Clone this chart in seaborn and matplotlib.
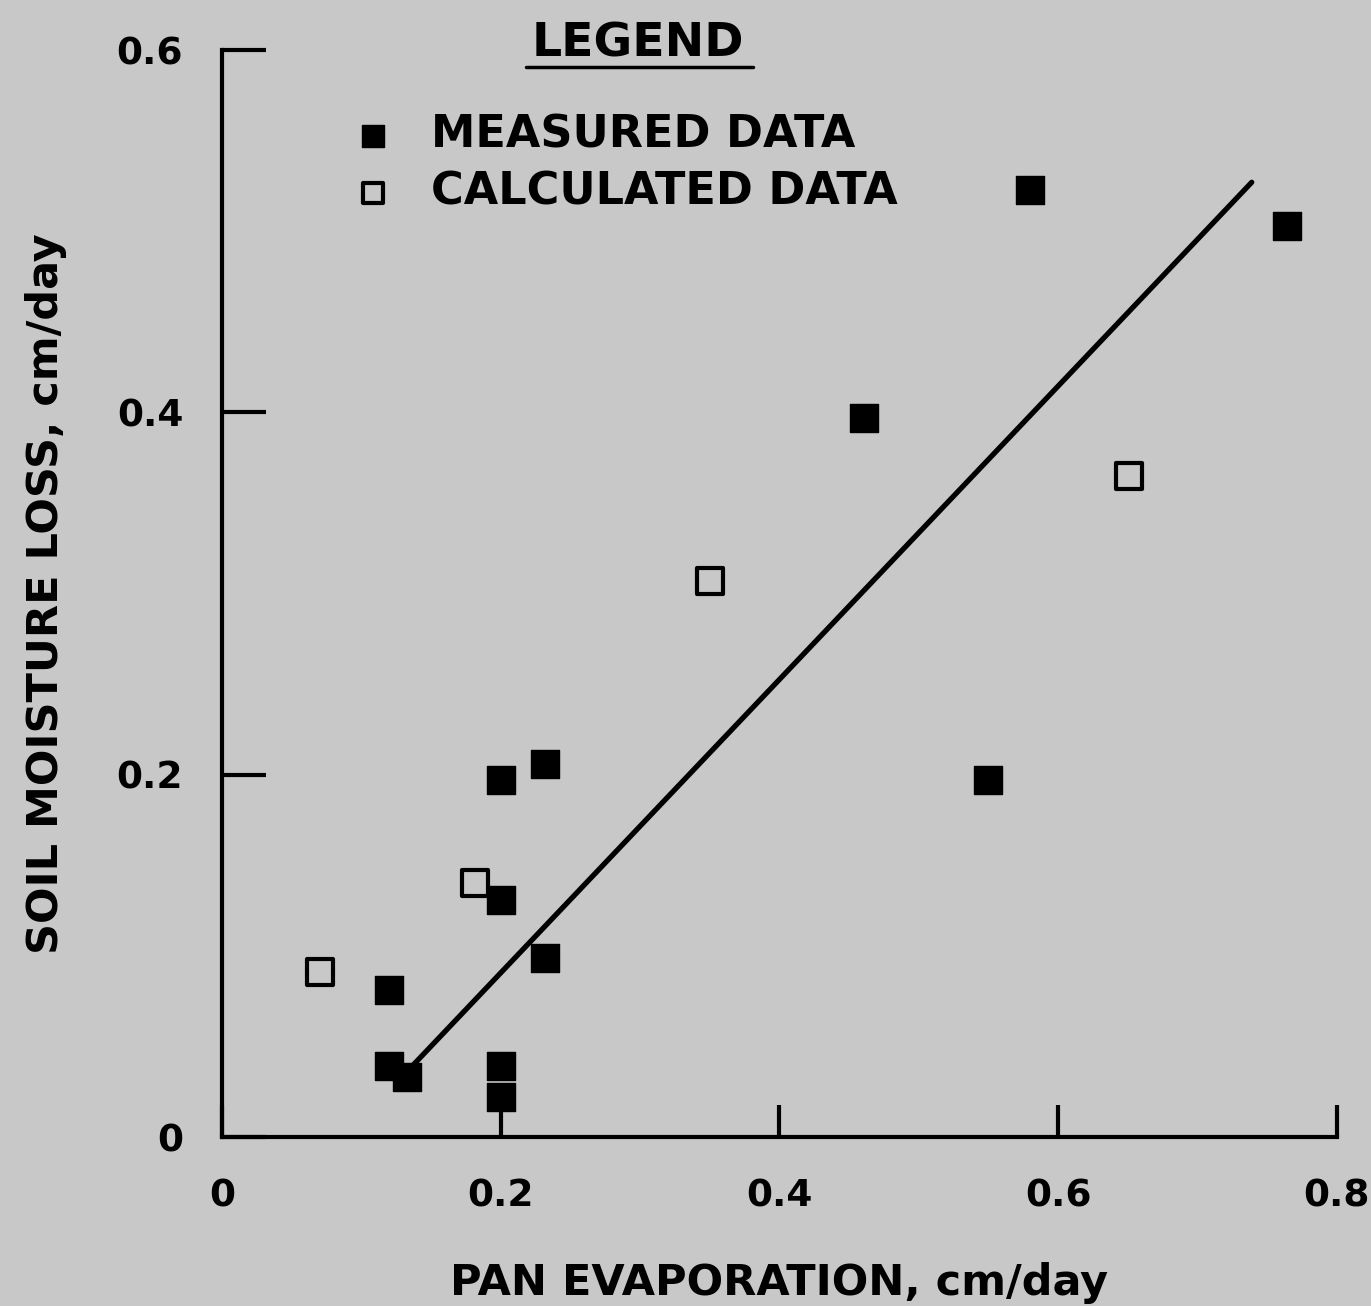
import matplotlib.pyplot as plt
import matplotlib.lines as mlines
import pandas as pd
import seaborn as sns

# measured points (filled squares)
meas_x = [0.12, 0.12, 0.133, 0.20, 0.232, 0.20, 0.232, 0.20, 0.20, 0.461, 0.55, 0.58, 0.764]
meas_y = [0.081, 0.039, 0.033, 0.197, 0.206, 0.131, 0.099, 0.039, 0.022, 0.397, 0.197, 0.523, 0.503]
# calculated points (open squares)
calc_x = [0.070, 0.1815, 0.350, 0.651]
calc_y = [0.091, 0.140, 0.307, 0.365]
# fitted line end points
fit_x = [0.135, 0.739]
fit_y = [0.038, 0.527]

bg = '#c8c8c8'
sns.set_theme(style='ticks')
plt.rcParams['font.family'] = ['DejaVu Sans']
plt.rcParams['font.weight'] = 'bold'
plt.rcParams['text.color'] = 'black'
plt.rcParams['axes.labelcolor'] = 'black'
plt.rcParams['xtick.color'] = 'black'
plt.rcParams['ytick.color'] = 'black'

fig = plt.figure(figsize=(13.71, 13.06), dpi=100, facecolor=bg)
ax = fig.add_axes([0.162, 0.1294, 0.813, 0.8323])
ax.set_facecolor(bg)

meas_df = pd.DataFrame({'x': meas_x, 'y': meas_y})
calc_df = pd.DataFrame({'x': calc_x, 'y': calc_y})
fit_df = pd.DataFrame({'x': fit_x, 'y': fit_y})

sns.lineplot(data=fit_df, x='x', y='y', ax=ax, color='black', linewidth=3.8)
sns.scatterplot(data=meas_df, x='x', y='y', ax=ax, marker='s', s=420, color='black',
                edgecolor='black', linewidth=1, label='MEASURED DATA', zorder=3)
sns.scatterplot(data=calc_df, x='x', y='y', ax=ax, marker='s', s=340, facecolor=bg,
                edgecolor='black', linewidth=3, label='CALCULATED DATA', zorder=3)

ax.set_xlim(0, 0.8)
ax.set_ylim(0, 0.6)
ax.set_xticks([0, 0.2, 0.4, 0.6, 0.8])
ax.set_xticklabels(['0', '0.2', '0.4', '0.6', '0.8'])
ax.set_yticks([0, 0.2, 0.4, 0.6])
ax.set_yticklabels(['0', '0.2', '0.4', '0.6'])
ax.tick_params(direction='in', width=3, labelsize=27)
ax.tick_params(axis='x', length=23, pad=30)
ax.tick_params(axis='y', length=32, pad=28)
for lab in ax.get_xticklabels() + ax.get_yticklabels():
    lab.set_fontweight('bold')
for side in ['top', 'right']:
    ax.spines[side].set_visible(False)
for side in ['left', 'bottom']:
    ax.spines[side].set_linewidth(3)
    ax.spines[side].set_color('black')

ax.set_xlabel('PAN EVAPORATION, cm/day', fontsize=31, fontweight='bold', labelpad=34)
ax.set_ylabel('SOIL MOISTURE LOSS, cm/day', fontsize=31, fontweight='bold', labelpad=36)

leg = ax.legend(loc='upper left', bbox_to_anchor=(0.08, 0.978), frameon=False,
                fontsize=32, handletextpad=0.8, labelspacing=0.3, markerscale=0.8,
                handlelength=1.0)
for t in leg.get_texts():
    t.set_fontweight('bold')
    t.set_color('black')

fig.text(0.465, 0.966, 'LEGEND', fontsize=34, fontweight='bold', ha='center', va='center')
fig.add_artist(mlines.Line2D([0.384, 0.549], [0.949, 0.949], color='black', linewidth=2.5))

fig.savefig('out.png', dpi=100, facecolor=bg)
